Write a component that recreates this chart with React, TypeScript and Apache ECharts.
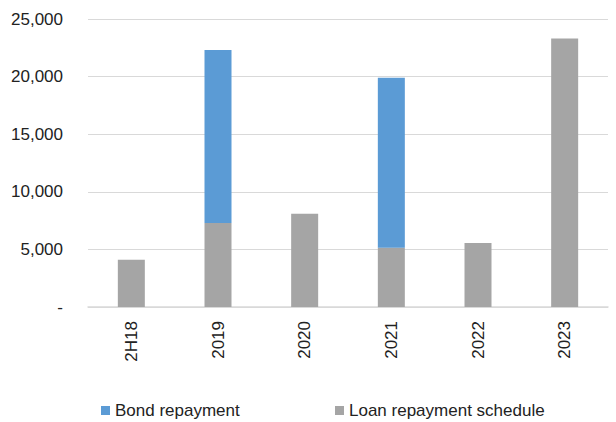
import React, { useEffect, useRef } from "react";
import * as echarts from "echarts";

const categories = ["2H18", "2019", "2020", "2021", "2022", "2023"];
const loanRepayment = [4100, 7300, 8100, 5150, 5550, 23300];
const bondRepayment = [null, 15000, null, 14750, null, null];
const yTicks = { min: 0, max: 25000, interval: 5000 };

export default function App() {
  const ref = useRef<HTMLDivElement>(null);
  useEffect(() => {
    if (!ref.current) return;
    const chart = echarts.init(ref.current, undefined, { renderer: "svg" });
    const font = "'Liberation Sans', Arial, sans-serif";
    const legendBase = {
      top: 397,
      icon: "rect",
      itemWidth: 9,
      itemHeight: 9,
      textStyle: { fontFamily: font, fontSize: 17, color: "#222" },
    };
    chart.setOption({
      animation: false,
      grid: { left: 88, right: 8, top: 19, bottom: 115 },
      legend: [
        { ...legendBase, data: ["Bond repayment"], left: 96 },
        { ...legendBase, data: ["Loan repayment schedule"], left: 330 },
      ],
      xAxis: {
        type: "category",
        data: categories,
        axisLine: { lineStyle: { color: "#D9D9D9", width: 1.5 } },
        axisTick: { show: false },
        axisLabel: {
          rotate: 90,
          margin: 14,
          fontFamily: font,
          fontSize: 17,
          color: "#222",
        },
      },
      yAxis: {
        type: "value",
        min: yTicks.min,
        max: yTicks.max,
        interval: yTicks.interval,
        axisLine: { show: false },
        axisTick: { show: false },
        splitLine: { lineStyle: { color: "#D9D9D9", width: 1 } },
        axisLabel: {
          margin: 25,
          fontFamily: font,
          fontSize: 17,
          color: "#222",
          formatter: (v: number) => (v === 0 ? "-" : v.toLocaleString("en-US")),
        },
      },
      series: [
        {
          name: "Loan repayment schedule",
          type: "bar",
          stack: "total",
          barWidth: 27,
          data: loanRepayment,
          itemStyle: { color: "#A5A5A5" },
        },
        {
          name: "Bond repayment",
          type: "bar",
          stack: "total",
          barWidth: 27,
          data: bondRepayment,
          itemStyle: { color: "#5B9BD5" },
        },
      ],
    });
    return () => chart.dispose();
  }, []);
  return <div ref={ref} style={{ width: 616, height: 422, position: "absolute", left: 0, top: 0 }} />;
}
